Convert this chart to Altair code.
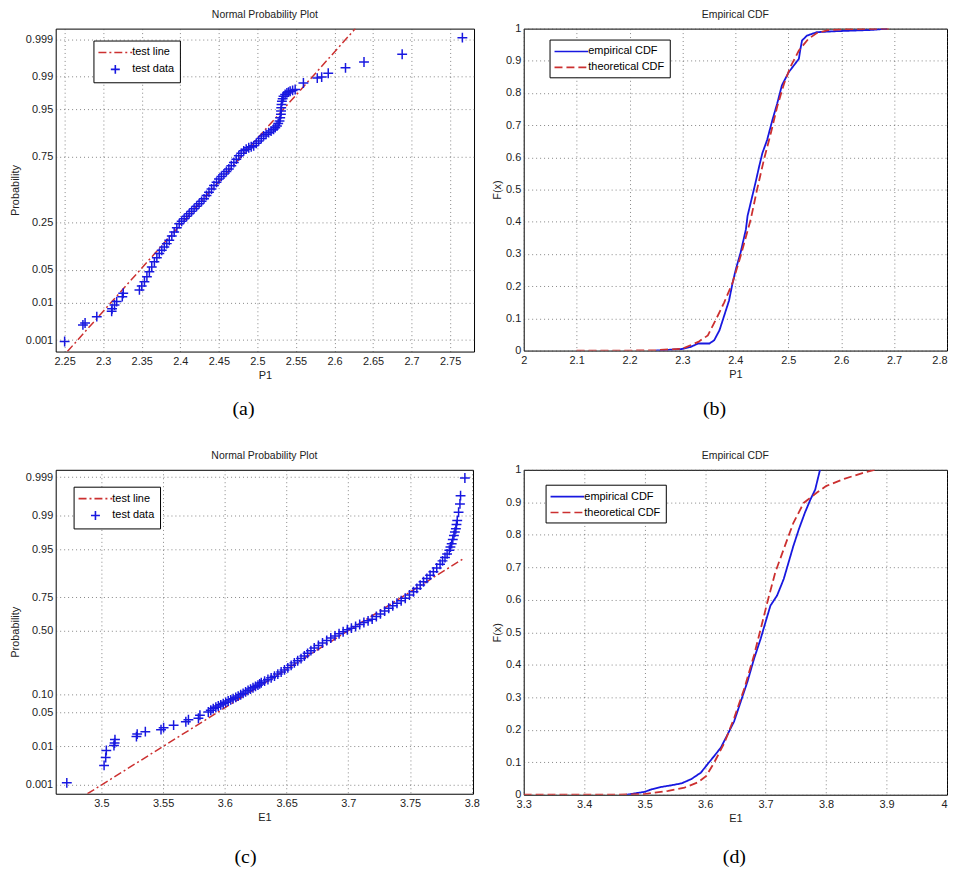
import altair as alt
import pandas as pd
from statistics import NormalDist

FONT = "Liberation Sans"
SERIF = "Liberation Serif"
BLUE = "#1818e0"
RED = "#cc3030"
PLUS = "M-0.75,0L0.75,0M0,-0.75L0,0.75"
SAMPLE_LINE = "M-2.83,0L2.83,0"

# ---------------- (a) Normal probability plot, P1 ----------------
# y values are normal quantiles of the plotted probability (read on the probit axis)
a_x = [2.250, 2.2737, 2.2765, 2.2917, 2.3110, 2.3115, 2.3147, 2.3175, 2.3248, 2.3260,
       2.3470, 2.3500, 2.3535, 2.3567, 2.3599, 2.3630, 2.3664, 2.3696, 2.3728, 2.3760,
       2.3793, 2.3825, 2.3857, 2.3890, 2.3921, 2.3955, 2.3986, 2.4018, 2.4050, 2.4083,
       2.4115, 2.4147, 2.4179, 2.4212, 2.4244, 2.4276, 2.4308, 2.4340, 2.4372, 2.4405,
       2.4437, 2.4470, 2.4501, 2.4533, 2.4566, 2.4598, 2.4630, 2.4662, 2.4695, 2.4727,
       2.4759, 2.4790, 2.4823, 2.4855, 2.4888, 2.4920, 2.4952, 2.4985, 2.5017, 2.5050,
       2.5081, 2.5113, 2.5146, 2.5178, 2.5210, 2.5232, 2.5254, 2.5270, 2.5287, 2.5296,
       2.5305, 2.5307, 2.5309, 2.5313, 2.5318, 2.5328, 2.5339, 2.5360, 2.5383, 2.5404,
       2.5425, 2.5457, 2.5490,
       2.5597, 2.5777, 2.5834, 2.5919, 2.6143, 2.6383, 2.6878, 2.7659]
a_q = [-3.12, -2.78, -2.74, -2.61, -2.50, -2.45, -2.37, -2.30, -2.20, -2.13,
       -2.061, -1.980, -1.892, -1.790, -1.688, -1.590, -1.484, -1.400, -1.312, -1.245,
       -1.178, -1.110, -1.041, -0.955, -0.871, -0.785, -0.700, -0.650, -0.598, -0.547,
       -0.496, -0.445, -0.394, -0.343, -0.292, -0.241, -0.190, -0.120, -0.055, 0.013,
       0.082, 0.150, 0.218, 0.270, 0.320, 0.371, 0.422, 0.490, 0.557, 0.625,
       0.694, 0.745, 0.796, 0.830, 0.860, 0.880, 0.898, 0.950, 1.000, 1.050,
       1.102, 1.135, 1.169, 1.204, 1.239, 1.272, 1.306, 1.357, 1.408, 1.476,
       1.545, 1.612, 1.680, 1.748, 1.816, 1.867, 1.918, 1.952, 1.986, 2.003,
       2.020, 2.037, 2.055,
       2.19, 2.29, 2.31, 2.39, 2.50, 2.62, 2.78, 3.12]
a_line_x = [2.2535, 2.6270]
a_line_q = [-3.327, 3.306]
a_x_ticks = [2.25, 2.3, 2.35, 2.4, 2.45, 2.5, 2.55, 2.6, 2.65, 2.7, 2.75]
a_prob_ticks = [0.001, 0.01, 0.05, 0.25, 0.75, 0.95, 0.99, 0.999]
a_prob_labels = ["0.001", "0.01", "0.05", "0.25", "0.75", "0.95", "0.99", "0.999"]

# ---------------- (b) Empirical CDF, P1 ----------------
b_emp_x = [2.250, 2.300, 2.315, 2.330, 2.351, 2.360, 2.370, 2.379, 2.388, 2.395, 2.401,
           2.410, 2.420, 2.423, 2.429, 2.438, 2.445, 2.451, 2.460, 2.470, 2.479, 2.488,
           2.501, 2.513, 2.520, 2.523, 2.526, 2.535, 2.554, 2.590, 2.659, 2.687]
b_emp_y = [0.000, 0.005, 0.011, 0.022, 0.022, 0.032, 0.063, 0.109, 0.155, 0.212, 0.253,
           0.305, 0.377, 0.418, 0.459, 0.521, 0.572, 0.613, 0.654, 0.716, 0.767, 0.824,
           0.865, 0.891, 0.906, 0.937, 0.963, 0.978, 0.989, 0.992, 0.996, 1.000]
b_theo_x = [2.100, 2.200, 2.250, 2.300, 2.330, 2.348, 2.367, 2.379, 2.395, 2.410, 2.429,
            2.441, 2.454, 2.467, 2.479, 2.492, 2.504, 2.520, 2.538, 2.554, 2.575, 2.600, 2.690]
b_theo_y = [0.000, 0.000, 0.001, 0.006, 0.027, 0.047, 0.109, 0.150, 0.212, 0.294, 0.407,
            0.500, 0.593, 0.675, 0.757, 0.829, 0.881, 0.932, 0.968, 0.986, 0.995, 0.998, 1.000]
b_x_ticks = [2.0, 2.1, 2.2, 2.3, 2.4, 2.5, 2.6, 2.7, 2.8]

# ---------------- (c) Normal probability plot, E1 ----------------
c_x = [3.472, 3.5022, 3.5035, 3.504, 3.5102, 3.5107, 3.511, 3.5284, 3.529, 3.5356,
       3.5483, 3.5504, 3.5585, 3.5684, 3.5705, 3.5786, 3.5798,
       3.5866, 3.5886, 3.5906, 3.5927, 3.5947, 3.5967, 3.5987, 3.6007, 3.6027, 3.6047,
       3.6067, 3.6088, 3.6108, 3.6128, 3.6148, 3.6168, 3.6188, 3.6208, 3.6228, 3.6248,
       3.6268, 3.6282, 3.6295, 3.6322, 3.6349, 3.6375, 3.6402, 3.6429, 3.6456, 3.6483,
       3.6510, 3.6537, 3.6563, 3.6590, 3.6617, 3.6644, 3.6670, 3.6697, 3.6724, 3.6758,
       3.6791, 3.6825, 3.6858, 3.6892, 3.6925, 3.6958, 3.6992, 3.7025, 3.7059, 3.7092,
       3.7126, 3.7160, 3.7193, 3.7227, 3.7260, 3.7294, 3.7327, 3.7360, 3.7394, 3.7428,
       3.7461, 3.7495, 3.7528, 3.7555, 3.7582, 3.7609, 3.7636, 3.7662, 3.7689, 3.7716,
       3.7743, 3.7763, 3.7783, 3.7800, 3.7818, 3.7827, 3.7837, 3.7846, 3.7855, 3.7863,
       3.7871, 3.7876, 3.7882, 3.7893, 3.7904, 3.7909, 3.7944]
c_q = [-3.06, -2.71, -2.55, -2.41, -2.31, -2.26, -2.19, -2.13, -2.08, -2.03,
       -1.99, -1.95, -1.90, -1.83, -1.79, -1.76, -1.70,
       -1.634, -1.600, -1.566, -1.540, -1.514, -1.490, -1.466, -1.440, -1.414, -1.390,
       -1.366, -1.340, -1.314, -1.287, -1.260, -1.230, -1.200, -1.173, -1.146, -1.120,
       -1.094, -1.070, -1.046, -1.013, -0.980, -0.947, -0.914, -0.872, -0.830, -0.788,
       -0.746, -0.696, -0.646, -0.603, -0.560, -0.507, -0.454, -0.400, -0.346, -0.296,
       -0.246, -0.196, -0.146, -0.103, -0.060, -0.020, 0.020, 0.053, 0.086, 0.126,
       0.166, 0.200, 0.234, 0.287, 0.340, 0.397, 0.454, 0.504, 0.554, 0.604,
       0.654, 0.720, 0.786, 0.853, 0.920, 0.987, 1.054, 1.120, 1.186, 1.263,
       1.340, 1.407, 1.474, 1.547, 1.620, 1.687, 1.754, 1.837, 1.920, 1.987,
       2.054, 2.137, 2.220, 2.386, 2.554, 2.720, 3.074]
c_line_x = [3.4887, 3.7944]
c_line_q = [-3.28, 1.47]
c_x_ticks = [3.5, 3.55, 3.6, 3.65, 3.7, 3.75, 3.8]
c_prob_ticks = [0.001, 0.01, 0.05, 0.10, 0.50, 0.75, 0.95, 0.99, 0.999]
c_prob_labels = ["0.001", "0.01", "0.05", "0.10", "0.50", "0.75", "0.95", "0.99", "0.999"]

# ---------------- (d) Empirical CDF, E1 ----------------
d_emp_x = [3.470, 3.500, 3.512, 3.528, 3.544, 3.561, 3.577, 3.593, 3.604, 3.615, 3.626,
           3.637, 3.648, 3.659, 3.670, 3.681, 3.692, 3.700, 3.708, 3.719, 3.730, 3.738,
           3.746, 3.755, 3.765, 3.774, 3.782, 3.790]
d_emp_y = [0.000, 0.009, 0.017, 0.024, 0.029, 0.035, 0.048, 0.068, 0.094, 0.119, 0.145,
           0.185, 0.226, 0.287, 0.348, 0.419, 0.481, 0.532, 0.582, 0.613, 0.664, 0.715,
           0.766, 0.817, 0.868, 0.908, 0.939, 1.000]
d_theo_x = [3.300, 3.400, 3.450, 3.500, 3.539, 3.566, 3.588, 3.602, 3.615, 3.632, 3.648,
            3.665, 3.681, 3.692, 3.703, 3.716, 3.730, 3.746, 3.763, 3.785, 3.800, 3.830,
            3.860, 3.880]
d_theo_y = [0.000, 0.000, 0.000, 0.002, 0.012, 0.022, 0.038, 0.058, 0.099, 0.160, 0.236,
            0.328, 0.430, 0.511, 0.593, 0.684, 0.756, 0.837, 0.898, 0.930, 0.950, 0.972,
            0.990, 1.000]
d_x_ticks = [3.3, 3.4, 3.5, 3.6, 3.7, 3.8, 3.9, 4.0]

F_ticks = [0, 0.1, 0.2, 0.3, 0.4, 0.5, 0.6, 0.7, 0.8, 0.9, 1.0]


def make_legend(lx, ly, symbol_type=None):
    kw = dict(orient="none", legendX=lx, legendY=ly, title=None,
              strokeColor="black", fillColor="white", padding=5,
              symbolSize=144, symbolOffset=10, labelOffset=10, rowPadding=4,
              labelFont=FONT, labelFontSize=11, labelColor="black",
              symbolStrokeWidth=1.6, symbolOpacity=1)
    if symbol_type:
        kw["symbolType"] = symbol_type
    return alt.Legend(**kw)


def caption(text, cx, cy):
    return alt.Chart(pd.DataFrame({"t": [text]})).mark_text(
        font=SERIF, fontSize=20, color="black", baseline="middle"
    ).encode(text="t:N", x=alt.value(cx), y=alt.value(cy))


def npp_panel(xs, qs, lx, lq, xdom, qdom, xticks, pticks, plabels, xtitle,
              w, h, leg, cap, cap_x, cap_dy):
    dom = ["test line", "test data"]
    pts = pd.DataFrame({"x": xs, "q": qs, "series": ["test data"] * len(xs)})
    ln = pd.DataFrame({"x": lx, "q": lq, "series": ["test line"] * len(lx)})
    qt = [NormalDist().inv_cdf(p) for p in pticks]
    expr = "''"
    for q, lab in zip(reversed(qt), reversed(plabels)):
        expr = f"abs(datum.value - ({q:.5f})) < 0.001 ? '{lab}' : {expr}"
    legend = make_legend(*leg)
    X = alt.X("x:Q", scale=alt.Scale(domain=xdom, nice=False, zero=False),
              axis=alt.Axis(values=xticks, format=".2~f", title=xtitle))
    Y = alt.Y("q:Q", scale=alt.Scale(domain=qdom, nice=False, zero=False),
              axis=alt.Axis(values=qt, labelExpr=expr, title="Probability", titlePadding=5))
    C = alt.Color("series:N", scale=alt.Scale(domain=dom, range=[RED, BLUE]), legend=legend)
    D = alt.StrokeDash("series:N", scale=alt.Scale(domain=dom, range=[[8, 3, 2, 3], [1, 0]]),
                       legend=legend)
    S = alt.Shape("series:N", scale=alt.Scale(domain=dom, range=[SAMPLE_LINE, PLUS]),
                  legend=legend)
    line = alt.Chart(ln).mark_line(strokeWidth=1.5, clip=True).encode(
        x=X, y=Y, color=C, strokeDash=D)
    points = alt.Chart(pts).mark_point(filled=False, size=175, strokeWidth=1.5,
                                       opacity=1, clip=True).encode(
        x=X, y=Y, color=C, shape=S, strokeDash=D)
    return alt.layer(line, points, caption(cap, cap_x, h + cap_dy)).properties(
        width=w, height=h, title=alt.TitleParams("Normal Probability Plot", offset=8))


def cdf_panel(ex, ey, tx, ty, xdom, xticks, last_tick, xtitle, w, h, leg, cap, cap_x, cap_dy):
    dom = ["empirical CDF", "theoretical CDF"]
    emp = pd.DataFrame({"x": ex, "F": ey, "series": ["empirical CDF"] * len(ex)})
    theo = pd.DataFrame({"x": tx, "F": ty, "series": ["theoretical CDF"] * len(tx)})
    legend = make_legend(*leg, symbol_type=SAMPLE_LINE)
    X = alt.X("x:Q", scale=alt.Scale(domain=xdom, nice=False, zero=False),
              axis=alt.Axis(values=xticks, format=".1~f", title=xtitle,
                            labelAlign={"condition": {"test": f"datum.value >= {last_tick - 0.01}",
                                                      "value": "right"},
                                        "value": "center"}))
    Y = alt.Y("F:Q", scale=alt.Scale(domain=[0, 1], nice=False),
              axis=alt.Axis(values=F_ticks, format=".1~f", title="F(x)", titlePadding=3))
    C = alt.Color("series:N", scale=alt.Scale(domain=dom, range=[BLUE, RED]), legend=legend)
    D = alt.StrokeDash("series:N", scale=alt.Scale(domain=dom, range=[[1, 0], [8, 4]]),
                       legend=legend)
    l1 = alt.Chart(emp).mark_line(strokeWidth=1.8, clip=True).encode(x=X, y=Y, color=C, strokeDash=D)
    l2 = alt.Chart(theo).mark_line(strokeWidth=1.8, clip=True).encode(x=X, y=Y, color=C, strokeDash=D)
    # the top "1" tick label pokes ~5.5px above the frame, so the title offset is reduced
    return alt.layer(l1, l2, caption(cap, cap_x, h + cap_dy)).properties(
        width=w, height=h, title=alt.TitleParams("Empirical CDF", offset=2.5))


pa = npp_panel(a_x, a_q, a_line_x, a_line_q, [2.2384, 2.781], [-3.327, 3.306],
               a_x_ticks, a_prob_ticks, a_prob_labels, "P1", 421, 325, (38, 12), "(a)", 189, 58)
pb = cdf_panel(b_emp_x, b_emp_y, b_theo_x, b_theo_y, [2.0, 2.8], b_x_ticks, 2.8, "P1",
               426, 324, (26, 11), "(b)", 192, 59)
pc = npp_panel(c_x, c_q, c_line_x, c_line_q, [3.463, 3.801], [-3.28, 3.24],
               c_x_ticks, c_prob_ticks, c_prob_labels, "E1", 420, 326, (18, 17), "(c)", 191, 64)
pd_ = cdf_panel(d_emp_x, d_emp_y, d_theo_x, d_theo_y, [3.3, 4.0], d_x_ticks, 4.0, "E1",
                426, 327, (22, 15), "(d)", 212, 63)

chart = alt.concat(pa, pb, pc, pd_, columns=2, spacing={"row": 119, "column": 50},
                   bounds="flush").resolve_scale(
    color="independent", strokeDash="independent", shape="independent"
).resolve_legend(
    color="independent", strokeDash="independent", shape="independent"
).properties(
    padding={"left": 0, "right": 0, "top": -2, "bottom": 0}, background="white"
).configure(font=FONT).configure_view(
    stroke="black", strokeWidth=1
).configure_axis(
    labelFont=FONT, labelFontSize=11, labelColor="#222",
    titleFont=FONT, titleFontSize=11, titleFontWeight="normal", titleColor="#222",
    grid=True, gridColor="#444", gridDash=[1, 3], gridOpacity=0.65, gridWidth=1,
    domain=False, ticks=False, labelPadding=3
).configure_axisX(labelPadding=4, titlePadding=3).configure_title(
    font=FONT, fontSize=10.5, fontWeight="normal", color="#222",
    anchor="middle", frame="group"
)

chart.save("out.html", embed_options={"renderer": "svg", "actions": False})
